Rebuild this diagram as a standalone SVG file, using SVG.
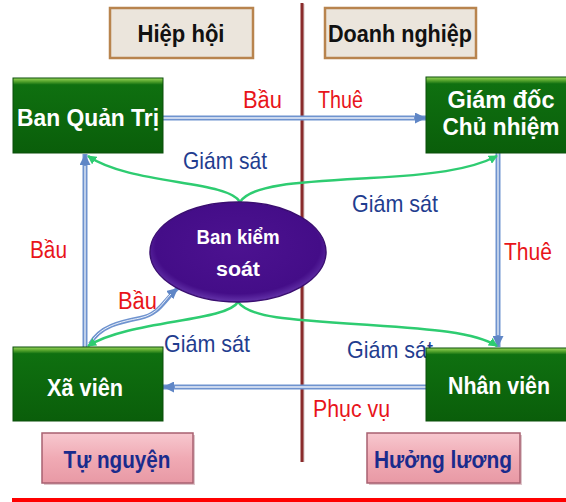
<svg xmlns="http://www.w3.org/2000/svg" width="566" height="502" viewBox="0 0 566 502">
<style>
.t{font-family:"Liberation Sans",Arial,sans-serif}
.wb{fill:#ffffff;font-weight:bold;font-size:24px}
.hd{fill:#111111;font-weight:bold;font-size:24px}
.pk{fill:#1a2b8c;font-weight:bold;font-size:24px}
.red{fill:#e8141a;font-size:23px}
.gs{fill:#1f3d8f;font-size:24px}
.gbox{fill:url(#gg);stroke:#0a4f0a;stroke-width:1}
.hbox{fill:#ebe5dc;stroke:#b8844e;stroke-width:2.5}
.pbox{fill:url(#pg);stroke:#a86070;stroke-width:1.5}
.bl{fill:none;stroke:#6f93cf;stroke-width:5}
.blin{fill:none;stroke:#ffffff;stroke-width:1.3;opacity:0.85}
.gr{fill:none;stroke:#2ecc71;stroke-width:2.5;marker-end:url(#ga)}
</style>
<defs>
<linearGradient id="gg" x1="0" y1="0" x2="0" y2="1">
<stop offset="0" stop-color="#9ad85a"/>
<stop offset="0.05" stop-color="#4f9f2a"/>
<stop offset="0.09" stop-color="#0f7010"/>
<stop offset="1" stop-color="#0a5e0a"/>
</linearGradient>
<linearGradient id="pg" x1="0" y1="0" x2="0" y2="1">
<stop offset="0" stop-color="#f7c8cf"/>
<stop offset="0.5" stop-color="#f0aab4"/>
<stop offset="1" stop-color="#e899a5"/>
</linearGradient>
<radialGradient id="eg" cx="0.5" cy="0.45" r="0.55">
<stop offset="0" stop-color="#4c1290"/>
<stop offset="0.85" stop-color="#440d88"/>
<stop offset="1" stop-color="#6434aa"/>
</radialGradient>
<marker id="ba" viewBox="0 0 10 10" refX="10" refY="5" markerWidth="11" markerHeight="11" markerUnits="userSpaceOnUse" orient="auto">
<path d="M0,0 L10,5 L0,10 z" fill="#5f86c6"/>
</marker>
<marker id="ga" viewBox="0 0 10 10" refX="9" refY="5" markerWidth="9" markerHeight="9" markerUnits="userSpaceOnUse" orient="auto">
<path d="M0,0 L10,5 L0,10 z" fill="#2ecc71"/>
</marker>
</defs>
<rect width="566" height="502" fill="#ffffff"/>

<g id="divider">
<line x1="303.5" y1="4" x2="303.5" y2="462" stroke="#d8c8c8" stroke-width="2"/>
<line x1="302" y1="3" x2="302" y2="462" stroke="#8a2b2b" stroke-width="3"/>
</g>

<g id="header-hiep-hoi">
<rect class="hbox" x="110" y="8" width="143" height="50"/>
<text class="t hd" x="181" y="42" text-anchor="middle" textLength="87" lengthAdjust="spacingAndGlyphs">Hiệp hội</text>
</g>
<g id="header-doanh-nghiep">
<rect class="hbox" x="325" y="8" width="151" height="50"/>
<text class="t hd" x="400" y="42" text-anchor="middle" textLength="144" lengthAdjust="spacingAndGlyphs">Doanh nghiệp</text>
</g>

<g id="connectors">
<path class="bl" d="M163,118 L426,118" marker-end="url(#ba)"/>
<path class="blin" d="M163,118 L414,118"/>
<path class="bl" d="M426,387 L163,387" marker-end="url(#ba)"/>
<path class="blin" d="M426,387 L175,387"/>
<path class="bl" d="M85,347 L85,154" marker-end="url(#ba)"/>
<path class="blin" d="M85,347 L85,166"/>
<path class="bl" d="M498,153 L498,347" marker-end="url(#ba)"/>
<path class="blin" d="M498,153 L498,335"/>
<path class="bl" style="stroke-width:4" d="M90,344 C100,326 120,322 140,318 C160,314 164,300 178,288" marker-end="url(#ba)"/>
<path class="blin" style="stroke-width:1" d="M90,344 C100,326 120,322 140,318 C158,314 162,303 171,294"/>
<path class="gr" d="M240,202 C228,180 130,185 88,156"/>
<path class="gr" d="M240,202 C252,184 300,182 370,178 C430,175 470,170 497,156"/>
<path class="gr" d="M238,302 C226,322 130,320 88,346"/>
<path class="gr" d="M238,302 C250,318 290,320 370,325 C430,329 475,332 497,346"/>
</g>

<g id="labels">
<text class="t red" x="243" y="108" textLength="39" lengthAdjust="spacingAndGlyphs">Bầu</text>
<text class="t red" x="318" y="108" textLength="45" lengthAdjust="spacingAndGlyphs">Thuê</text>
<text class="t red" x="30" y="258" textLength="37" lengthAdjust="spacingAndGlyphs">Bầu</text>
<text class="t red" x="504" y="260" textLength="48" lengthAdjust="spacingAndGlyphs">Thuê</text>
<text class="t red" x="118" y="309" textLength="39" lengthAdjust="spacingAndGlyphs">Bầu</text>
<text class="t red" x="313" y="417" textLength="77" lengthAdjust="spacingAndGlyphs">Phục vụ</text>
<text class="t gs" x="183" y="169" textLength="84" lengthAdjust="spacingAndGlyphs">Giám sát</text>
<text class="t gs" x="352" y="212" textLength="86" lengthAdjust="spacingAndGlyphs">Giám sát</text>
<text class="t gs" x="164" y="352" textLength="86" lengthAdjust="spacingAndGlyphs">Giám sát</text>
<text class="t gs" x="347" y="358" textLength="86" lengthAdjust="spacingAndGlyphs">Giám sát</text>
</g>

<g id="node-ban-kiem-soat">
<ellipse cx="238" cy="252" rx="88" ry="50" fill="url(#eg)" stroke="#3a0e70" stroke-width="1.5"/>
<text class="t" x="238" y="244" text-anchor="middle" fill="#ffffff" font-weight="bold" font-size="20" textLength="83" lengthAdjust="spacingAndGlyphs">Ban kiểm</text>
<text class="t" x="238" y="276" text-anchor="middle" fill="#ffffff" font-weight="bold" font-size="20" textLength="44" lengthAdjust="spacingAndGlyphs">soát</text>
</g>

<g id="node-ban-quan-tri">
<rect class="gbox" x="13" y="78" width="150" height="75"/>
<text class="t wb" x="88" y="126" text-anchor="middle" textLength="142" lengthAdjust="spacingAndGlyphs">Ban Quản Trị</text>
</g>
<g id="node-giam-doc">
<rect class="gbox" x="426" y="77" width="142" height="76"/>
<text class="t wb" x="501" y="108" text-anchor="middle" textLength="107" lengthAdjust="spacingAndGlyphs">Giám đốc</text>
<text class="t wb" x="501" y="135" text-anchor="middle" textLength="117" lengthAdjust="spacingAndGlyphs">Chủ nhiệm</text>
</g>
<g id="node-xa-vien">
<rect class="gbox" x="13" y="347" width="150" height="74"/>
<text class="t wb" x="85" y="396" text-anchor="middle" textLength="76" lengthAdjust="spacingAndGlyphs">Xã viên</text>
</g>
<g id="node-nhan-vien">
<rect class="gbox" x="426" y="348" width="142" height="73"/>
<text class="t wb" x="499" y="394" text-anchor="middle" textLength="102" lengthAdjust="spacingAndGlyphs">Nhân viên</text>
</g>

<g id="tag-tu-nguyen">
<rect x="44" y="435" width="151" height="50" fill="#c8a0a8" opacity="0.6"/>
<rect class="pbox" x="42" y="433" width="151" height="50"/>
<text class="t pk" x="117" y="468" text-anchor="middle" textLength="107" lengthAdjust="spacingAndGlyphs">Tự nguyện</text>
</g>
<g id="tag-huong-luong">
<rect x="369" y="435" width="153" height="50" fill="#c8a0a8" opacity="0.6"/>
<rect class="pbox" x="367" y="433" width="153" height="50"/>
<text class="t pk" x="443" y="468" text-anchor="middle" textLength="138" lengthAdjust="spacingAndGlyphs">Hưởng lương</text>
</g>

<rect id="footer-line" x="12" y="498" width="554" height="4" fill="#ff0000"/>
</svg>
